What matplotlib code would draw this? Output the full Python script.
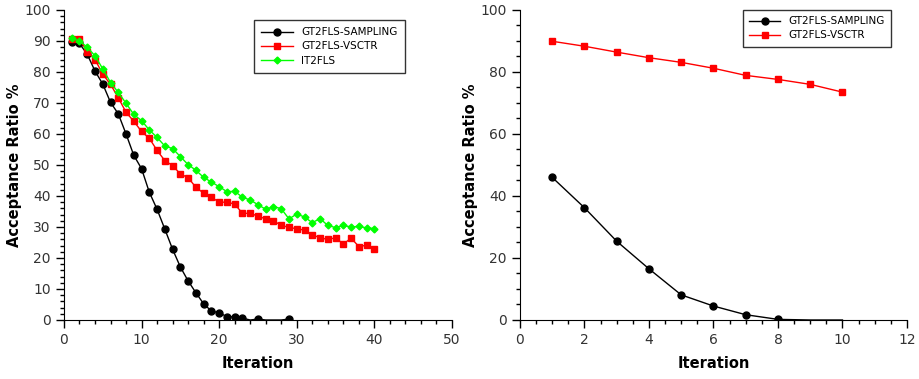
import matplotlib.pyplot as plt
from matplotlib.ticker import MultipleLocator

# dados do grafico da esquerda
it_samp = list(range(1, 30))
samp = [89.6, 89.2, 85.7, 80.3, 76.1, 70.2, 66.5, 60.0, 53.1, 48.8,
        41.2, 35.7, 29.3, 22.8, 17.1, 12.6, 8.8, 5.2, 2.9, 2.3,
        1.1, 1.0, 0.6, 0.0, 0.3, 0.0, 0.0, 0.0, 0.3]
it_40 = list(range(1, 41))
vsctr = [90.5, 90.5, 86.6, 84.0, 79.3, 76.0, 71.7, 67.0, 64.1, 60.8,
         58.6, 54.7, 51.4, 49.8, 47.1, 45.9, 42.8, 40.9, 39.6, 38.0,
         38.0, 37.4, 34.4, 34.4, 33.5, 32.6, 32.0, 30.5, 29.9, 29.4,
         29.0, 27.5, 26.5, 26.0, 26.5, 24.5, 26.4, 23.7, 24.1, 22.9]
it2fls = [90.9, 90.0, 88.0, 85.2, 81.0, 76.6, 73.4, 69.9, 66.3, 64.3,
          61.3, 58.9, 56.1, 55.3, 52.7, 50.1, 48.3, 46.0, 44.5, 43.0,
          41.4, 41.5, 39.6, 38.7, 37.2, 35.7, 36.6, 35.9, 32.6, 34.2,
          33.2, 31.4, 32.7, 30.5, 29.8, 30.5, 30.0, 30.2, 29.7, 29.5]

# dados do grafico da direita
it_10 = list(range(1, 11))
samp2 = [46.0, 36.2, 25.4, 16.5, 8.1, 4.5, 1.7, 0.2, 0.0, 0.0]
vsctr2 = [89.9, 88.3, 86.4, 84.6, 83.1, 81.2, 78.9, 77.6, 76.0, 73.5]

tick_color = '#333333'


def estilo(ax):
    ax.spines['top'].set_visible(False)
    ax.spines['right'].set_visible(False)
    ax.tick_params(which='major', direction='out', length=6, width=1,
                   labelsize=10, labelcolor=tick_color)
    ax.tick_params(which='minor', direction='out', length=3, width=1)
    ax.set_xlabel('Iteration', fontsize=10.5, fontweight='bold', labelpad=6)
    ax.set_ylabel('Acceptance Ratio %', fontsize=10.5, fontweight='bold',
                  labelpad=2)


fig = plt.figure(figsize=(9.19, 3.79), dpi=100)
ax1 = fig.add_axes([0.0696, 0.1557, 0.4222, 0.818])
ax2 = fig.add_axes([0.5658, 0.1557, 0.4211, 0.818])

# esquerda
mk = [i for i, v in enumerate(samp) if v > 0]
ax1.plot(it_samp, samp, color='black', lw=1, marker='o', ms=5,
         markevery=mk, label='GT2FLS-SAMPLING')
ax1.plot(it_40, vsctr, color='red', lw=1, marker='s', ms=5,
         label='GT2FLS-VSCTR')
ax1.plot(it_40, it2fls, color='#00ff00', lw=1, marker='D', ms=3.5,
         label='IT2FLS')
ax1.set_xlim(0, 50)
ax1.set_ylim(0, 100)
ax1.xaxis.set_major_locator(MultipleLocator(10))
ax1.xaxis.set_minor_locator(MultipleLocator(2))
ax1.yaxis.set_major_locator(MultipleLocator(10))
ax1.yaxis.set_minor_locator(MultipleLocator(2))
estilo(ax1)
leg1 = ax1.legend(loc='upper left', bbox_to_anchor=(0.49, 0.968),
                  borderaxespad=0, fontsize=7.5, frameon=True,
                  fancybox=False, edgecolor='black', handlelength=3,
                  borderpad=0.7, labelspacing=0.4)
leg1.get_frame().set_linewidth(1)

# direita
mk2 = [i for i, v in enumerate(samp2) if v > 0]
ax2.plot(it_10, samp2, color='black', lw=1, marker='o', ms=5,
         markevery=mk2, label='GT2FLS-SAMPLING')
ax2.plot(it_10, vsctr2, color='red', lw=1, marker='s', ms=5,
         label='GT2FLS-VSCTR')
ax2.set_xlim(0, 12)
ax2.set_ylim(0, 100)
ax2.xaxis.set_major_locator(MultipleLocator(2))
ax2.xaxis.set_minor_locator(MultipleLocator(0.5))
ax2.yaxis.set_major_locator(MultipleLocator(20))
ax2.yaxis.set_minor_locator(MultipleLocator(5))
estilo(ax2)
leg2 = ax2.legend(loc='upper left', bbox_to_anchor=(0.576, 1.0),
                  borderaxespad=0, fontsize=7.5, frameon=True,
                  fancybox=False, edgecolor='black', handlelength=3,
                  borderpad=0.6, labelspacing=0.4)
leg2.get_frame().set_linewidth(1)

fig.savefig('out.png', dpi=100)
